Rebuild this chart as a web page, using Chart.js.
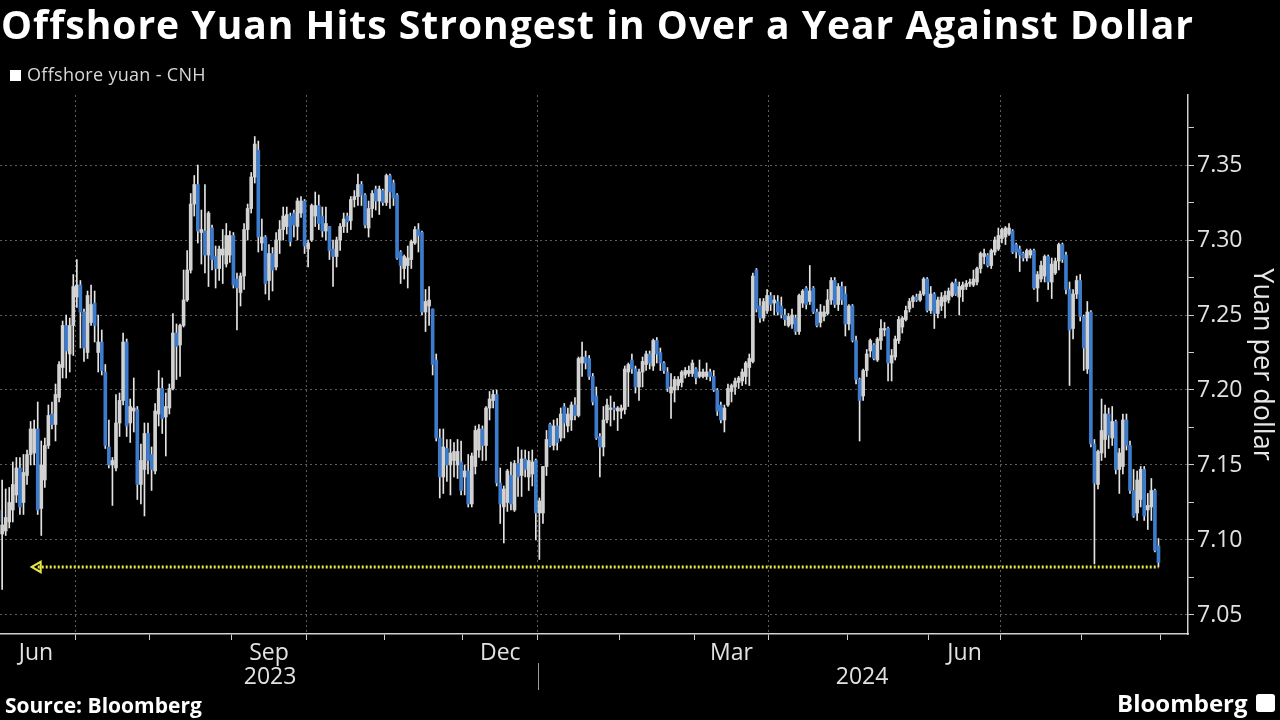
<!DOCTYPE html>
<html>
<head>
<meta charset="utf-8">
<script src="https://cdn.jsdelivr.net/npm/chart.js@4.4.1/dist/chart.umd.min.js"></script>
<style>
  html, body { margin: 0; padding: 0; background: #000; }
  #wrap { position: relative; width: 1280px; height: 720px; overflow: hidden; font-family: "Open Sans", "DejaVu Sans", sans-serif; }
  #cnh { position: absolute; left: 0; top: 0; }
  .title { position: absolute; left: 1px; top: -3px; color: #fff; font-weight: 700; font-size: 39px; letter-spacing: 1px; white-space: nowrap; }
  .legend { position: absolute; left: 10px; top: 62px; color: #d8d8d8; font-size: 18px; letter-spacing: 0.3px; white-space: nowrap; }
  .legend i { display: inline-block; width: 11px; height: 11px; background: #fff; margin-right: 6px; }
  .source { position: absolute; left: 5px; top: 691px; font-weight: 700; font-size: 21px; color: #fff; }
  .brand { position: absolute; left: 1117px; top: 686px; font-weight: 700; font-size: 24px; color: #fff; }
  .logo { position: absolute; left: 1256px; top: 694px; width: 19px; height: 18px; background: #fff; border-radius: 3px; }
</style>
</head>
<body>
<div id="wrap">
  <canvas id="cnh" width="1280" height="720"></canvas>
  <div class="title">Offshore Yuan Hits Strongest in Over a Year Against Dollar</div>
  <div class="legend"><i></i>Offshore yuan - CNH</div>
  <div class="source">Source: Bloomberg</div>
  <div class="brand">Bloomberg</div>
  <div class="logo"></div>
</div>
<script>
// daily candles, trading day 0 = 1 Jun 2023 ... 326 = 30 Aug 2024
const opens = [
  7.120,7.104,7.106,7.112,7.120,7.130,7.148,7.125,7.143,7.157,
  7.158,7.174,7.121,7.140,7.163,7.184,7.177,7.195,7.215,7.243,
  7.224,7.243,7.262,7.270,7.252,7.225,7.245,7.258,7.225,7.232,
  7.212,7.162,7.150,7.148,7.178,7.193,7.232,7.178,7.186,7.187,
  7.137,7.147,7.171,7.157,7.146,7.184,7.201,7.182,7.188,7.201,
  7.238,7.230,7.243,7.260,7.280,7.324,7.337,7.305,7.306,7.290,
  7.308,7.289,7.281,7.290,7.284,7.290,7.303,7.274,7.265,7.276,
  7.307,7.321,7.342,7.360,7.298,7.302,7.273,7.291,7.282,7.300,
  7.307,7.309,7.316,7.318,7.309,7.318,7.326,7.294,7.300,7.316,
  7.323,7.316,7.306,7.309,7.294,7.289,7.300,7.309,7.316,7.313,
  7.327,7.329,7.337,7.330,7.308,7.321,7.334,7.326,7.333,7.325,
  7.343,7.338,7.330,7.292,7.281,7.283,7.287,7.298,7.307,7.305,
  7.252,7.256,7.254,7.220,7.168,7.142,7.161,7.150,7.153,7.150,
  7.152,7.142,7.146,7.124,7.149,7.160,7.174,7.163,7.188,7.193,
  7.197,7.138,7.122,7.125,7.143,7.120,7.151,7.143,7.154,7.142,
  7.144,7.153,7.118,7.118,7.149,7.177,7.163,7.176,7.168,7.189,
  7.176,7.180,7.190,7.183,7.218,7.222,7.221,7.209,7.196,7.169,
  7.162,7.180,7.187,7.188,7.186,7.186,7.187,7.212,7.220,7.214,
  7.202,7.212,7.217,7.224,7.216,7.233,7.225,7.218,7.212,7.198,
  7.200,7.203,7.205,7.210,7.211,7.211,7.214,7.209,7.209,7.209,
  7.212,7.209,7.200,7.190,7.180,7.190,7.199,7.202,7.205,7.206,
  7.209,7.215,7.219,7.280,7.256,7.248,7.253,7.263,7.258,7.259,
  7.256,7.250,7.243,7.244,7.248,7.239,7.258,7.268,7.259,7.268,
  7.252,7.245,7.249,7.251,7.260,7.273,7.257,7.269,7.264,7.244,
  7.256,7.233,7.207,7.196,7.213,7.226,7.230,7.220,7.233,7.240,
  7.241,7.218,7.222,7.233,7.242,7.247,7.254,7.259,7.262,7.260,
  7.264,7.274,7.253,7.264,7.251,7.256,7.259,7.260,7.263,7.272,
  7.262,7.267,7.269,7.271,7.270,7.272,7.281,7.289,7.290,7.283,
  7.292,7.294,7.301,7.302,7.304,7.306,7.297,7.294,7.291,7.288,
  7.290,7.293,7.268,7.274,7.276,7.289,7.272,7.278,7.286,7.297,
  7.290,7.267,7.241,7.264,7.273,7.249,7.214,7.252,7.164,7.137,
  7.158,7.167,7.184,7.168,7.179,7.147,7.149,7.180,7.163,7.133,
  7.118,7.127,7.147,7.120,7.122,7.133,7.096
];
const highs = [
  7.125,7.140,7.134,7.135,7.152,7.155,7.155,7.157,7.160,7.179,
  7.180,7.192,7.166,7.168,7.190,7.192,7.204,7.219,7.246,7.250,
  7.248,7.277,7.287,7.273,7.254,7.266,7.270,7.266,7.250,7.240,
  7.217,7.180,7.155,7.197,7.198,7.238,7.234,7.194,7.208,7.189,
  7.164,7.178,7.178,7.162,7.191,7.213,7.208,7.198,7.204,7.251,
  7.244,7.244,7.280,7.293,7.331,7.343,7.350,7.320,7.337,7.319,
  7.310,7.296,7.296,7.307,7.311,7.306,7.305,7.278,7.278,7.311,
  7.324,7.345,7.369,7.366,7.314,7.303,7.297,7.295,7.305,7.313,
  7.322,7.322,7.318,7.320,7.328,7.329,7.327,7.300,7.324,7.332,
  7.330,7.322,7.322,7.309,7.300,7.302,7.311,7.318,7.318,7.329,
  7.333,7.344,7.339,7.331,7.326,7.333,7.336,7.336,7.334,7.344,
  7.344,7.340,7.331,7.293,7.290,7.296,7.300,7.309,7.311,7.306,
  7.267,7.269,7.254,7.224,7.174,7.174,7.167,7.167,7.165,7.167,
  7.166,7.150,7.157,7.158,7.176,7.177,7.176,7.189,7.199,7.200,
  7.200,7.148,7.136,7.147,7.152,7.153,7.162,7.160,7.160,7.159,
  7.160,7.154,7.128,7.149,7.173,7.178,7.180,7.181,7.188,7.191,
  7.188,7.192,7.195,7.222,7.232,7.226,7.223,7.211,7.202,7.171,
  7.189,7.194,7.196,7.192,7.189,7.190,7.216,7.218,7.224,7.216,
  7.214,7.222,7.226,7.226,7.234,7.235,7.228,7.219,7.215,7.211,
  7.209,7.209,7.213,7.215,7.216,7.220,7.215,7.220,7.214,7.218,
  7.214,7.213,7.201,7.192,7.190,7.204,7.204,7.208,7.209,7.214,
  7.219,7.224,7.278,7.281,7.261,7.261,7.267,7.265,7.263,7.263,
  7.262,7.254,7.251,7.254,7.250,7.264,7.267,7.269,7.283,7.269,
  7.254,7.257,7.256,7.267,7.275,7.275,7.271,7.272,7.269,7.257,
  7.257,7.236,7.208,7.214,7.227,7.234,7.231,7.235,7.247,7.245,
  7.242,7.227,7.236,7.249,7.249,7.256,7.261,7.263,7.264,7.266,
  7.275,7.275,7.269,7.265,7.262,7.265,7.266,7.268,7.272,7.274,
  7.272,7.272,7.273,7.274,7.280,7.282,7.292,7.294,7.291,7.294,
  7.302,7.308,7.308,7.309,7.311,7.307,7.298,7.296,7.292,7.294,
  7.294,7.294,7.279,7.286,7.290,7.290,7.288,7.288,7.298,7.298,
  7.292,7.272,7.267,7.276,7.277,7.250,7.259,7.253,7.167,7.160,
  7.194,7.190,7.188,7.189,7.180,7.161,7.184,7.184,7.166,7.147,
  7.146,7.149,7.149,7.131,7.141,7.134,7.101
];
const lows = [
  7.105,7.067,7.103,7.108,7.112,7.125,7.117,7.117,7.137,7.150,
  7.150,7.117,7.103,7.135,7.161,7.174,7.166,7.192,7.208,7.208,
  7.212,7.223,7.255,7.228,7.219,7.221,7.243,7.232,7.212,7.210,
  7.161,7.148,7.123,7.146,7.169,7.190,7.169,7.165,7.172,7.127,
  7.124,7.116,7.144,7.133,7.144,7.176,7.171,7.156,7.184,7.200,
  7.207,7.209,7.242,7.259,7.278,7.316,7.298,7.284,7.278,7.269,
  7.280,7.268,7.273,7.271,7.282,7.285,7.268,7.240,7.256,7.267,
  7.300,7.318,7.338,7.292,7.293,7.264,7.260,7.266,7.280,7.291,
  7.300,7.304,7.296,7.302,7.300,7.315,7.291,7.282,7.299,7.309,
  7.307,7.302,7.300,7.287,7.269,7.282,7.293,7.305,7.305,7.307,
  7.322,7.323,7.323,7.308,7.302,7.315,7.320,7.317,7.323,7.323,
  7.321,7.323,7.287,7.271,7.274,7.268,7.281,7.297,7.292,7.250,
  7.239,7.243,7.210,7.166,7.128,7.131,7.139,7.130,7.142,7.141,
  7.130,7.130,7.122,7.122,7.144,7.155,7.153,7.153,7.180,7.188,
  7.136,7.111,7.098,7.119,7.120,7.119,7.129,7.129,7.142,7.133,
  7.136,7.100,7.087,7.111,7.143,7.162,7.160,7.160,7.166,7.168,
  7.172,7.173,7.180,7.182,7.209,7.214,7.207,7.190,7.167,7.142,
  7.156,7.178,7.176,7.180,7.173,7.181,7.184,7.189,7.211,7.198,
  7.193,7.202,7.213,7.214,7.213,7.218,7.213,7.211,7.199,7.181,
  7.192,7.200,7.202,7.208,7.209,7.209,7.204,7.208,7.208,7.207,
  7.206,7.199,7.183,7.178,7.172,7.189,7.192,7.197,7.201,7.203,
  7.204,7.203,7.218,7.252,7.245,7.246,7.251,7.253,7.250,7.250,
  7.248,7.243,7.242,7.241,7.237,7.237,7.255,7.254,7.257,7.251,
  7.242,7.242,7.246,7.250,7.257,7.255,7.253,7.257,7.236,7.240,
  7.232,7.204,7.166,7.193,7.209,7.222,7.220,7.219,7.227,7.236,
  7.206,7.206,7.220,7.231,7.238,7.246,7.252,7.255,7.259,7.259,
  7.263,7.252,7.251,7.241,7.248,7.253,7.248,7.258,7.262,7.263,
  7.250,7.259,7.267,7.269,7.269,7.270,7.278,7.284,7.282,7.281,
  7.290,7.293,7.298,7.297,7.303,7.291,7.288,7.279,7.286,7.286,
  7.288,7.267,7.259,7.272,7.272,7.267,7.261,7.277,7.280,7.285,
  7.264,7.203,7.234,7.261,7.246,7.213,7.211,7.162,7.084,7.134,
  7.153,7.155,7.161,7.163,7.144,7.131,7.144,7.160,7.131,7.115,
  7.113,7.122,7.113,7.107,7.113,7.092,7.082
];
const closes = [
  7.112,7.110,7.115,7.125,7.137,7.148,7.122,7.145,7.157,7.174,
  7.174,7.120,7.150,7.163,7.183,7.177,7.197,7.217,7.243,7.226,
  7.243,7.269,7.270,7.252,7.228,7.263,7.257,7.243,7.232,7.213,
  7.163,7.150,7.153,7.178,7.193,7.232,7.176,7.189,7.188,7.137,
  7.153,7.171,7.153,7.147,7.186,7.201,7.181,7.189,7.201,7.238,
  7.229,7.243,7.260,7.280,7.324,7.337,7.306,7.307,7.290,7.318,
  7.287,7.281,7.294,7.294,7.303,7.303,7.270,7.268,7.276,7.307,
  7.321,7.342,7.364,7.302,7.302,7.271,7.291,7.280,7.300,7.307,
  7.316,7.317,7.299,7.310,7.326,7.326,7.296,7.298,7.323,7.323,
  7.311,7.306,7.311,7.293,7.289,7.300,7.309,7.314,7.312,7.327,
  7.329,7.337,7.330,7.310,7.321,7.331,7.326,7.334,7.325,7.343,
  7.332,7.328,7.288,7.283,7.289,7.288,7.299,7.307,7.303,7.252,
  7.259,7.260,7.217,7.168,7.142,7.162,7.150,7.158,7.159,7.159,
  7.133,7.146,7.124,7.156,7.173,7.174,7.163,7.188,7.194,7.197,
  7.138,7.124,7.134,7.146,7.124,7.151,7.142,7.154,7.147,7.153,
  7.152,7.118,7.126,7.149,7.167,7.163,7.176,7.165,7.184,7.178,
  7.184,7.190,7.183,7.221,7.222,7.218,7.209,7.192,7.168,7.162,
  7.180,7.190,7.188,7.187,7.188,7.188,7.214,7.217,7.214,7.202,
  7.212,7.219,7.224,7.218,7.233,7.224,7.218,7.213,7.201,7.202,
  7.207,7.207,7.212,7.213,7.213,7.218,7.208,7.212,7.212,7.212,
  7.209,7.200,7.186,7.180,7.188,7.201,7.203,7.206,7.208,7.212,
  7.218,7.221,7.276,7.254,7.248,7.259,7.263,7.257,7.260,7.252,
  7.250,7.247,7.249,7.250,7.239,7.263,7.266,7.257,7.266,7.252,
  7.243,7.252,7.252,7.260,7.273,7.257,7.269,7.260,7.244,7.256,
  7.233,7.207,7.193,7.213,7.224,7.233,7.221,7.234,7.241,7.241,
  7.218,7.223,7.234,7.247,7.248,7.253,7.259,7.262,7.260,7.264,
  7.274,7.253,7.264,7.251,7.260,7.262,7.263,7.266,7.271,7.264,
  7.269,7.270,7.271,7.272,7.274,7.281,7.291,7.291,7.283,7.293,
  7.300,7.303,7.307,7.308,7.308,7.292,7.292,7.290,7.288,7.293,
  7.293,7.268,7.277,7.283,7.289,7.272,7.284,7.286,7.297,7.287,
  7.267,7.240,7.264,7.273,7.249,7.228,7.252,7.164,7.138,7.159,
  7.173,7.184,7.170,7.179,7.147,7.158,7.180,7.163,7.133,7.116,
  7.140,7.147,7.116,7.123,7.133,7.093,7.085
];

// axis positions in trading-day units (boundaries sit between two days)
const monthStarts = [21.5, 42.5, 65.5, 86.5, 108.5, 130.5, 151.5, 174.5, 195.5, 216.5, 238.5, 261.5, 281.5, 304.5, 326.5];
const quarterStarts = [21.5, 86.5, 151.5, 216.5, 281.5];
const monthLabels = ['Jun', 'Sep', 'Dec', 'Mar', 'Jun'];
const monthLabelAt = [10.5, 76, 141, 206, 271.5];
const yearLabels = ['2023', '2024'];
const yearLabelAt = [76.3, 242.7];
const yearSplit = 151.5;
const yTicks = [7.05, 7.075, 7.1, 7.125, 7.15, 7.175, 7.2, 7.225, 7.25, 7.275, 7.3, 7.325, 7.35, 7.375];
const lowLevel = 7.082;
const lowFrom = 11;
const lowTo = 326;

const UP = '#d2d2d2';
const DOWN = '#3d7ccc';

const isMajor = v => Math.abs(v * 20 - Math.round(v * 20)) < 1e-6;

const bodies = closes.map((c, i) => ({ x: i, y: [opens[i], c] }));
const wicks = highs.map((h, i) => ({ x: i, y: [lows[i], h] }));

const yearRow = {
    id: 'yearRow',
    afterDraw(chart) {
        const ctx = chart.ctx, x = chart.scales.x;
        const top = chart.chartArea.bottom;
        ctx.save();
        ctx.fillStyle = '#e2e2e2';
        ctx.font = '23px "Open Sans"';
        ctx.textAlign = 'center';
        ctx.textBaseline = 'middle';
        yearLabels.forEach((t, k) => ctx.fillText(t, x.getPixelForValue(yearLabelAt[k]), top + 43));
        const sx = Math.round(x.getPixelForValue(yearSplit)) + 0.5;
        ctx.strokeStyle = '#9a9a9a';
        ctx.lineWidth = 1;
        ctx.beginPath();
        ctx.moveTo(sx, top + 29);
        ctx.lineTo(sx, top + 56);
        ctx.stroke();
        ctx.restore();
    }
};

new Chart(document.getElementById('cnh'), {
    type: 'bar',
    data: {
        datasets: [{
            type: 'line',
            data: [{ x: lowFrom, y: lowLevel }, { x: lowTo, y: lowLevel }],
            borderColor: '#e6e645',
            borderWidth: 3,
            borderDash: [2, 2],
            pointRadius: [6, 0],
            pointStyle: 'triangle',
            rotation: 270,
            pointBackgroundColor: 'rgba(0,0,0,0)',
            pointBorderColor: '#e6e645',
            pointBorderWidth: 2,
            order: 0
        }, {
            data: bodies,
            backgroundColor: bodies.map((b) => b.y[1] >= b.y[0] ? UP : DOWN),
            borderWidth: 0,
            barThickness: 3,
            minBarLength: 1,
            grouped: false,
            order: 1
        }, {
            data: wicks,
            backgroundColor: '#e4e4e4',
            borderWidth: 0,
            barThickness: 1,
            grouped: false,
            order: 2
        }]
    },
    options: {
        responsive: false,
        animation: false,
        layout: { autoPadding: false, padding: { top: 95, bottom: 46, left: 0, right: 0 } },
        plugins: { legend: { display: false }, tooltip: { enabled: false } },
        scales: {
            x: {
                type: 'linear',
                position: 'bottom',
                offset: false,
                min: 0.4,
                max: 334.3,
                afterBuildTicks: (s) => {
                    s.ticks = monthStarts.concat(monthLabelAt).map(v => ({ value: v }));
                },
                afterFit: (s) => { s.height = 40; },
                grid: {
                    offset: false,
                    color: (c) => quarterStarts.includes(c.tick && c.tick.value) ? '#5c5c5c' : 'rgba(0,0,0,0)',
                    tickColor: (c) => monthStarts.includes(c.tick && c.tick.value) ? '#cfcfcf' : 'rgba(0,0,0,0)',
                    tickLength: 6,
                    lineWidth: 1
                },
                border: { color: '#d0d0d0', width: 1.5, dash: [2, 3] },
                ticks: {
                    autoSkip: false,
                    maxRotation: 0,
                    padding: 0,
                    color: '#e2e2e2',
                    font: { family: 'Open Sans', size: 23 },
                    callback: (v) => {
                        const k = monthLabelAt.indexOf(v);
                        return k >= 0 ? monthLabels[k] : '';
                    }
                }
            },
            y: {
                position: 'right',
                min: 7.0373,
                max: 7.3967,
                afterBuildTicks: (s) => { s.ticks = yTicks.map(v => ({ value: v })); },
                afterFit: (s) => { s.width = 92; },
                grid: {
                    color: (c) => c.tick && isMajor(c.tick.value) ? '#5c5c5c' : 'rgba(0,0,0,0)',
                    tickColor: '#cfcfcf',
                    tickLength: 6,
                    lineWidth: 1
                },
                border: { color: '#d0d0d0', width: 1.5, dash: [2, 3] },
                ticks: {
                    padding: 3,
                    color: '#e2e2e2',
                    font: { family: 'Open Sans', size: 23 },
                    callback: (v) => isMajor(v) ? v.toFixed(2) : ''
                },
                title: {
                    display: true,
                    text: 'Yuan per dollar',
                    color: '#e8e8e8',
                    font: { family: 'Open Sans', size: 27 },
                    padding: { top: 2, bottom: 0 }
                }
            }
        }
    },
    plugins: [yearRow]
});
</script>
</body>
</html>
